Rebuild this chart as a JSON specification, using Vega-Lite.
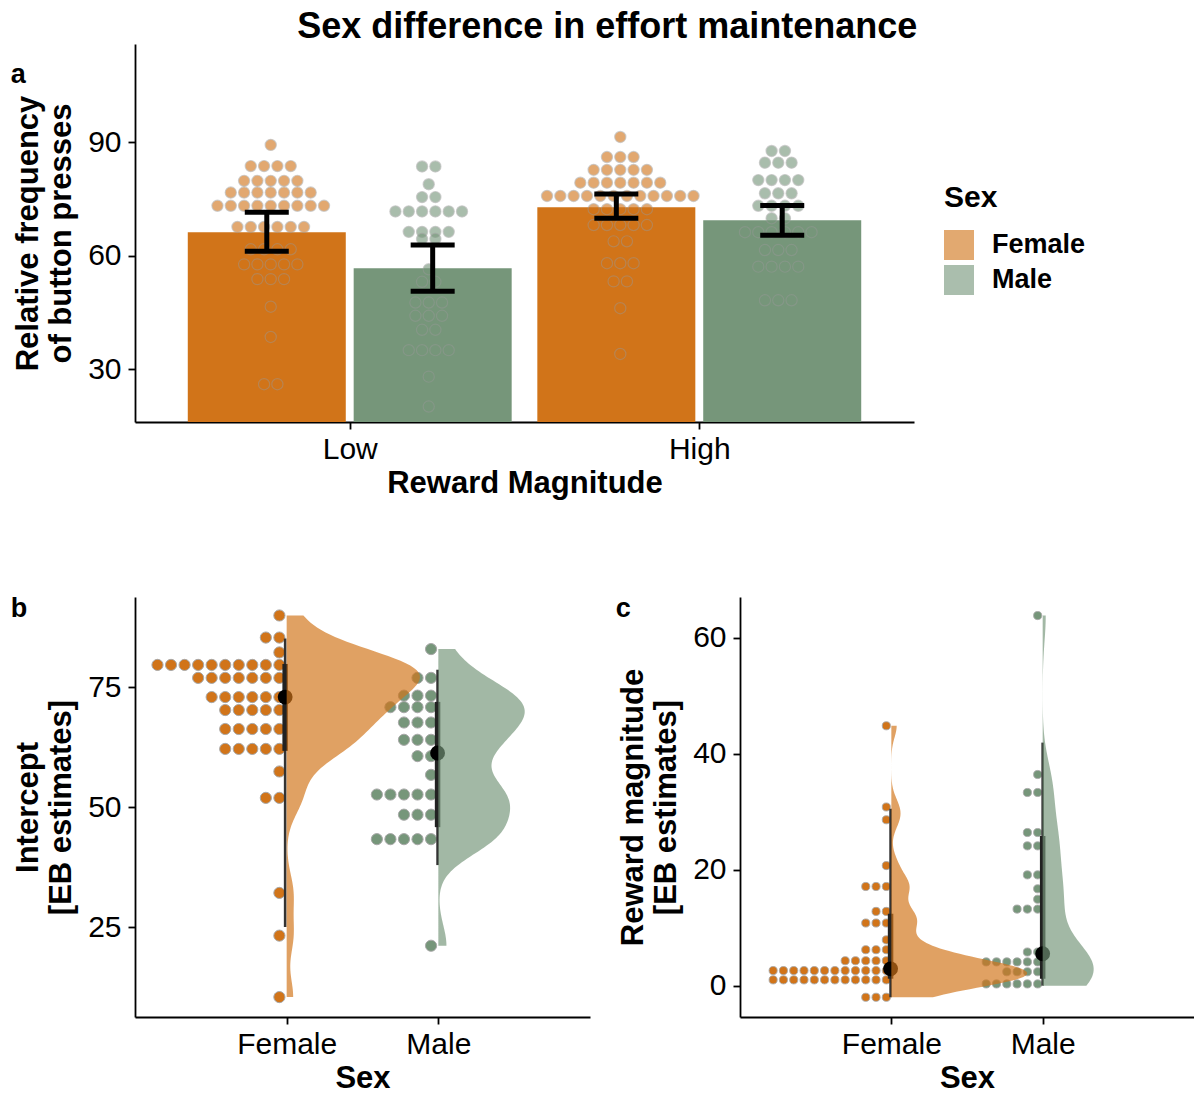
{
  "$schema": "https://vega.github.io/schema/vega-lite/v6.json",
  "padding": {"left": 10, "top": 9, "right": 0, "bottom": 0},
  "title": {"text": "Sex difference in effort maintenance", "fontSize": 36, "fontWeight": "bold", "color": "black", "anchor": "middle", "dx": 5, "offset": -2},
  "bounds": "flush",
  "spacing": 175,
  "datasets": {
    "barsA": [
      {"m": "Low", "s": "Female", "mean": 66.2, "lo": 61.2, "hi": 71.5},
      {"m": "Low", "s": "Male", "mean": 56.7, "lo": 50.6, "hi": 62.8},
      {"m": "High", "s": "Female", "mean": 72.8, "lo": 69.9, "hi": 76.3},
      {"m": "High", "s": "Male", "mean": 69.4, "lo": 65.4, "hi": 73.3}
    ],
    "dotsA": [
      {"m":"Low","s":"Female","v":89.3},
      {"m":"Low","s":"Female","v":83.7},{"m":"Low","s":"Female","v":83.7},{"m":"Low","s":"Female","v":83.7},{"m":"Low","s":"Female","v":83.7},
      {"m":"Low","s":"Female","v":79.8},{"m":"Low","s":"Female","v":79.8},{"m":"Low","s":"Female","v":79.8},{"m":"Low","s":"Female","v":79.8},{"m":"Low","s":"Female","v":79.8},
      {"m":"Low","s":"Female","v":76.7},{"m":"Low","s":"Female","v":76.7},{"m":"Low","s":"Female","v":76.7},{"m":"Low","s":"Female","v":76.7},{"m":"Low","s":"Female","v":76.7},{"m":"Low","s":"Female","v":76.7},{"m":"Low","s":"Female","v":76.7},
      {"m":"Low","s":"Female","v":73.2},{"m":"Low","s":"Female","v":73.2},{"m":"Low","s":"Female","v":73.2},{"m":"Low","s":"Female","v":73.2},{"m":"Low","s":"Female","v":73.2},{"m":"Low","s":"Female","v":73.2},{"m":"Low","s":"Female","v":73.2},{"m":"Low","s":"Female","v":73.2},{"m":"Low","s":"Female","v":73.2},
      {"m":"Low","s":"Female","v":67.6},{"m":"Low","s":"Female","v":67.6},{"m":"Low","s":"Female","v":67.6},{"m":"Low","s":"Female","v":67.6},{"m":"Low","s":"Female","v":67.6},{"m":"Low","s":"Female","v":67.6},
      {"m":"Low","s":"Female","v":61.7},{"m":"Low","s":"Female","v":61.7},{"m":"Low","s":"Female","v":61.7},{"m":"Low","s":"Female","v":61.7},
      {"m":"Low","s":"Female","v":57.7},{"m":"Low","s":"Female","v":57.7},{"m":"Low","s":"Female","v":57.7},{"m":"Low","s":"Female","v":57.7},{"m":"Low","s":"Female","v":57.7},
      {"m":"Low","s":"Female","v":53.8},{"m":"Low","s":"Female","v":53.8},{"m":"Low","s":"Female","v":53.8},
      {"m":"Low","s":"Female","v":46.5},{"m":"Low","s":"Female","v":38.5},
      {"m":"Low","s":"Female","v":26},{"m":"Low","s":"Female","v":26},

      {"m":"Low","s":"Male","v":83.6},{"m":"Low","s":"Male","v":83.6},
      {"m":"Low","s":"Male","v":78.9},
      {"m":"Low","s":"Male","v":75.5},{"m":"Low","s":"Male","v":75.5},
      {"m":"Low","s":"Male","v":71.7},{"m":"Low","s":"Male","v":71.7},{"m":"Low","s":"Male","v":71.7},{"m":"Low","s":"Male","v":71.7},{"m":"Low","s":"Male","v":71.7},{"m":"Low","s":"Male","v":71.7},
      {"m":"Low","s":"Male","v":66.3},{"m":"Low","s":"Male","v":66.3},{"m":"Low","s":"Male","v":66.3},{"m":"Low","s":"Male","v":66.3},
      {"m":"Low","s":"Male","v":64.4},{"m":"Low","s":"Male","v":64.4},
      {"m":"Low","s":"Male","v":56.4},
      {"m":"Low","s":"Male","v":53.1},{"m":"Low","s":"Male","v":53.1},
      {"m":"Low","s":"Male","v":47.6},{"m":"Low","s":"Male","v":47.6},{"m":"Low","s":"Male","v":47.6},
      {"m":"Low","s":"Male","v":44.1},{"m":"Low","s":"Male","v":44.1},{"m":"Low","s":"Male","v":44.1},
      {"m":"Low","s":"Male","v":40.4},{"m":"Low","s":"Male","v":40.4},
      {"m":"Low","s":"Male","v":35},{"m":"Low","s":"Male","v":35},{"m":"Low","s":"Male","v":35},{"m":"Low","s":"Male","v":35},
      {"m":"Low","s":"Male","v":28},{"m":"Low","s":"Male","v":20.1},

      {"m":"High","s":"Female","v":91.4},
      {"m":"High","s":"Female","v":86.1},{"m":"High","s":"Female","v":86.1},{"m":"High","s":"Female","v":86.1},
      {"m":"High","s":"Female","v":82.7},{"m":"High","s":"Female","v":82.7},{"m":"High","s":"Female","v":82.7},{"m":"High","s":"Female","v":82.7},{"m":"High","s":"Female","v":82.7},
      {"m":"High","s":"Female","v":79.3},{"m":"High","s":"Female","v":79.3},{"m":"High","s":"Female","v":79.3},{"m":"High","s":"Female","v":79.3},{"m":"High","s":"Female","v":79.3},{"m":"High","s":"Female","v":79.3},{"m":"High","s":"Female","v":79.3},
      {"m":"High","s":"Female","v":75.8},{"m":"High","s":"Female","v":75.8},{"m":"High","s":"Female","v":75.8},{"m":"High","s":"Female","v":75.8},{"m":"High","s":"Female","v":75.8},{"m":"High","s":"Female","v":75.8},{"m":"High","s":"Female","v":75.8},{"m":"High","s":"Female","v":75.8},{"m":"High","s":"Female","v":75.8},{"m":"High","s":"Female","v":75.8},{"m":"High","s":"Female","v":75.8},{"m":"High","s":"Female","v":75.8},
      {"m":"High","s":"Female","v":72.3},{"m":"High","s":"Female","v":72.3},{"m":"High","s":"Female","v":72.3},{"m":"High","s":"Female","v":72.3},{"m":"High","s":"Female","v":72.3},
      {"m":"High","s":"Female","v":68.1},{"m":"High","s":"Female","v":68.1},{"m":"High","s":"Female","v":68.1},{"m":"High","s":"Female","v":68.1},{"m":"High","s":"Female","v":68.1},
      {"m":"High","s":"Female","v":63.8},{"m":"High","s":"Female","v":63.8},
      {"m":"High","s":"Female","v":58},{"m":"High","s":"Female","v":58},{"m":"High","s":"Female","v":58},
      {"m":"High","s":"Female","v":53.2},{"m":"High","s":"Female","v":53.2},
      {"m":"High","s":"Female","v":46.1},{"m":"High","s":"Female","v":34},

      {"m":"High","s":"Male","v":87.7},{"m":"High","s":"Male","v":87.7},
      {"m":"High","s":"Male","v":84.6},{"m":"High","s":"Male","v":84.6},{"m":"High","s":"Male","v":84.6},
      {"m":"High","s":"Male","v":80},{"m":"High","s":"Male","v":80},{"m":"High","s":"Male","v":80},{"m":"High","s":"Male","v":80},
      {"m":"High","s":"Male","v":76.5},{"m":"High","s":"Male","v":76.5},{"m":"High","s":"Male","v":76.5},
      {"m":"High","s":"Male","v":73.2},{"m":"High","s":"Male","v":73.2},{"m":"High","s":"Male","v":73.2},{"m":"High","s":"Male","v":73.2},
      {"m":"High","s":"Male","v":69.9},{"m":"High","s":"Male","v":69.9},
      {"m":"High","s":"Male","v":66.2},{"m":"High","s":"Male","v":66.2},{"m":"High","s":"Male","v":66.2},{"m":"High","s":"Male","v":66.2},{"m":"High","s":"Male","v":66.2},{"m":"High","s":"Male","v":66.2},
      {"m":"High","s":"Male","v":61.5},{"m":"High","s":"Male","v":61.5},{"m":"High","s":"Male","v":61.5},
      {"m":"High","s":"Male","v":57.1},{"m":"High","s":"Male","v":57.1},{"m":"High","s":"Male","v":57.1},{"m":"High","s":"Male","v":57.1},
      {"m":"High","s":"Male","v":48.2},{"m":"High","s":"Male","v":48.2},{"m":"High","s":"Male","v":48.2}
    ],
    "dotsB": [
      {"s":"Female","v":89.9},
      {"s":"Female","v":85.3},{"s":"Female","v":85.3},
      {"s":"Female","v":82.2},
      {"s":"Female","v":79.6},{"s":"Female","v":79.6},{"s":"Female","v":79.6},{"s":"Female","v":79.6},{"s":"Female","v":79.6},{"s":"Female","v":79.6},{"s":"Female","v":79.6},{"s":"Female","v":79.6},{"s":"Female","v":79.6},{"s":"Female","v":79.6},
      {"s":"Female","v":76.9},{"s":"Female","v":76.9},{"s":"Female","v":76.9},{"s":"Female","v":76.9},{"s":"Female","v":76.9},{"s":"Female","v":76.9},{"s":"Female","v":76.9},
      {"s":"Female","v":72.9},{"s":"Female","v":72.9},{"s":"Female","v":72.9},{"s":"Female","v":72.9},{"s":"Female","v":72.9},{"s":"Female","v":72.9},
      {"s":"Female","v":70.2},{"s":"Female","v":70.2},{"s":"Female","v":70.2},{"s":"Female","v":70.2},{"s":"Female","v":70.2},
      {"s":"Female","v":66.25},{"s":"Female","v":66.25},{"s":"Female","v":66.25},{"s":"Female","v":66.25},{"s":"Female","v":66.25},
      {"s":"Female","v":62.1},{"s":"Female","v":62.1},{"s":"Female","v":62.1},{"s":"Female","v":62.1},{"s":"Female","v":62.1},
      {"s":"Female","v":57.4},
      {"s":"Female","v":51.9},{"s":"Female","v":51.9},
      {"s":"Female","v":32.1},{"s":"Female","v":23.2},{"s":"Female","v":10.4},
      {"s":"Male","v":82.9},
      {"s":"Male","v":76.9},{"s":"Male","v":76.9},
      {"s":"Male","v":73.2},{"s":"Male","v":73.2},{"s":"Male","v":73.2},
      {"s":"Male","v":70.8},{"s":"Male","v":70.8},{"s":"Male","v":70.8},{"s":"Male","v":70.8},
      {"s":"Male","v":67.6},{"s":"Male","v":67.6},{"s":"Male","v":67.6},
      {"s":"Male","v":64},{"s":"Male","v":64},{"s":"Male","v":64},
      {"s":"Male","v":60.6},{"s":"Male","v":60.6},
      {"s":"Male","v":56.7},
      {"s":"Male","v":52.6},{"s":"Male","v":52.6},{"s":"Male","v":52.6},{"s":"Male","v":52.6},{"s":"Male","v":52.6},
      {"s":"Male","v":48.4},{"s":"Male","v":48.4},{"s":"Male","v":48.4},
      {"s":"Male","v":43.3},{"s":"Male","v":43.3},{"s":"Male","v":43.3},{"s":"Male","v":43.3},{"s":"Male","v":43.3},
      {"s":"Male","v":21.1}
    ],
    "dotsC": [
      {"s":"Female","v":44.8},{"s":"Female","v":30.8},{"s":"Female","v":28.6},{"s":"Female","v":20.7},
      {"s":"Female","v":17.1},{"s":"Female","v":17.1},{"s":"Female","v":17.1},
      {"s":"Female","v":12.8},{"s":"Female","v":12.8},
      {"s":"Female","v":10.8},{"s":"Female","v":10.8},{"s":"Female","v":10.8},
      {"s":"Female","v":7.9},
      {"s":"Female","v":6.2},{"s":"Female","v":6.2},{"s":"Female","v":6.2},
      {"s":"Female","v":4.3},{"s":"Female","v":4.3},{"s":"Female","v":4.3},{"s":"Female","v":4.3},{"s":"Female","v":4.3},
      {"s":"Female","v":2.6},{"s":"Female","v":2.6},{"s":"Female","v":2.6},{"s":"Female","v":2.6},{"s":"Female","v":2.6},{"s":"Female","v":2.6},{"s":"Female","v":2.6},{"s":"Female","v":2.6},{"s":"Female","v":2.6},{"s":"Female","v":2.6},{"s":"Female","v":2.6},{"s":"Female","v":2.6},
      {"s":"Female","v":1.0},{"s":"Female","v":1.0},{"s":"Female","v":1.0},{"s":"Female","v":1.0},{"s":"Female","v":1.0},{"s":"Female","v":1.0},{"s":"Female","v":1.0},{"s":"Female","v":1.0},{"s":"Female","v":1.0},{"s":"Female","v":1.0},{"s":"Female","v":1.0},{"s":"Female","v":1.0},
      {"s":"Female","v":-2.0},{"s":"Female","v":-2.0},{"s":"Female","v":-2.0},
      {"s":"Male","v":63.8},{"s":"Male","v":36.4},
      {"s":"Male","v":33.3},{"s":"Male","v":33.3},
      {"s":"Male","v":26.4},{"s":"Male","v":26.4},
      {"s":"Male","v":24.1},{"s":"Male","v":24.1},
      {"s":"Male","v":19.1},{"s":"Male","v":19.1},
      {"s":"Male","v":16.7},{"s":"Male","v":14.9},
      {"s":"Male","v":13.2},{"s":"Male","v":13.2},{"s":"Male","v":13.2},
      {"s":"Male","v":5.8},{"s":"Male","v":5.8},
      {"s":"Male","v":4.1},{"s":"Male","v":4.1},{"s":"Male","v":4.1},{"s":"Male","v":4.1},{"s":"Male","v":4.1},{"s":"Male","v":4.1},
      {"s":"Male","v":2.4},{"s":"Male","v":2.4},{"s":"Male","v":2.4},{"s":"Male","v":2.4},
      {"s":"Male","v":0.3},{"s":"Male","v":0.3},{"s":"Male","v":0.3},{"s":"Male","v":0.3},{"s":"Male","v":0.3},{"s":"Male","v":0.3}
    ],
    "intB": [
      {"s":"Female","med":72.9,"lo66":61.7,"hi66":79.8,"lo95":25,"hi95":85.1},
      {"s":"Male","med":61.25,"lo66":45.8,"hi66":71.9,"lo95":37.9,"hi95":78.6}
    ],
    "intC": [
      {"s":"Female","med":2.9,"lo66":1.2,"hi66":12.4,"lo95":-2,"hi95":30.5},
      {"s":"Male","med":5.5,"lo66":1.2,"hi66":25.8,"lo95":0,"hi95":41.9}
    ]
  },
  "vconcat": [
    {
      "width": 779,
      "height": 378,
      "title": {"text": "a", "anchor": "start", "frame": "bounds", "fontSize": 27, "dy": 49, "dx": -2},
      "layer": [
        {
          "data": {"name": "barsA"},
          "transform": [{"calculate": "(datum.m=='Low'?1:2) + (datum.s=='Female'?-0.2373:0.2373)", "as": "pos"}],
          "mark": {"type": "bar", "width": 158, "clip": true, "orient": "vertical"},
          "encoding": {
            "x": {"field": "pos", "type": "quantitative", "scale": {"domain": [0.4, 2.6], "nice": false, "zero": false},
                  "axis": {"values": [1, 2], "labelExpr": "datum.value == 1 ? 'Low' : 'High'", "title": "Reward Magnitude"}},
            "y": {"field": "mean", "type": "quantitative", "scale": {"domain": [16, 116], "nice": false, "zero": false},
                  "axis": {"values": [30, 60, 90], "title": ["Relative frequency", "of button presses"]}},
            "color": {"field": "s", "type": "nominal", "scale": {"domain": ["Female", "Male"], "range": ["#D17419", "#76967A"]},
                      "legend": {"title": "Sex", "orient": "none", "legendX": 809, "legendY": 139, "symbolType": "square", "symbolSize": 900, "symbolOpacity": 1, "symbolStrokeWidth": 0}}
          }
        },
        {
          "data": {"name": "dotsA"},
          "transform": [
            {"window": [{"op": "row_number", "as": "r"}], "groupby": ["m", "s", "v"]},
            {"joinaggregate": [{"op": "count", "as": "n"}], "groupby": ["m", "s", "v"]},
            {"calculate": "(datum.m=='Low'?1:2) + (datum.s=='Female'?-0.226:0.226) + (datum.r-(datum.n+1)/2)*0.0381", "as": "px"}
          ],
          "mark": {"type": "circle", "size": 125, "opacity": 0.62, "stroke": "#9A9A9A", "strokeWidth": 1.2, "strokeOpacity": 0.7},
          "encoding": {
            "x": {"field": "px", "type": "quantitative"},
            "y": {"field": "v", "type": "quantitative"},
            "color": {"field": "s", "type": "nominal"}
          }
        },
        {
          "data": {"name": "barsA"},
          "transform": [{"calculate": "(datum.m=='Low'?1:2) + (datum.s=='Female'?-0.2373:0.2373)", "as": "pos"}],
          "mark": {"type": "rule", "color": "black", "strokeWidth": 5},
          "encoding": {
            "x": {"field": "pos", "type": "quantitative"},
            "y": {"field": "lo", "type": "quantitative"},
            "y2": {"field": "hi"}
          }
        },
        {
          "data": {"name": "barsA"},
          "transform": [
            {"calculate": "(datum.m=='Low'?1:2) + (datum.s=='Female'?-0.2373:0.2373)", "as": "pos"},
            {"fold": ["lo", "hi"], "as": ["k", "val"]}
          ],
          "mark": {"type": "tick", "orient": "horizontal", "size": 44, "thickness": 5, "color": "black", "opacity": 1},
          "encoding": {
            "x": {"field": "pos", "type": "quantitative"},
            "y": {"field": "val", "type": "quantitative"}
          }
        }
      ]
    },
    {
      "hconcat": [
        {
          "width": 455,
          "height": 420,
          "title": {"text": "b", "anchor": "start", "frame": "bounds", "fontSize": 27, "dy": 30, "dx": -2},
          "layer": [
            {
              "data": {"name": "dotsB"},
              "transform": [
                {"window": [{"op": "row_number", "as": "r"}], "groupby": ["s", "v"]},
                {"calculate": "(datum.s=='Female'?1:2) - 0.048 - (datum.r-1)*0.0893", "as": "px"}
              ],
              "mark": {"type": "circle", "size": 125, "opacity": 1, "stroke": "#A8A8A8", "strokeWidth": 1},
              "encoding": {
                "x": {"field": "px", "type": "quantitative", "scale": {"domain": [0, 3], "nice": false, "zero": false},
                      "axis": {"values": [1, 2], "labelExpr": "datum.value == 1 ? 'Female' : 'Male'", "title": "Sex"}},
                "y": {"field": "v", "type": "quantitative", "scale": {"domain": [6.25, 93.75], "nice": false, "zero": false},
                      "axis": {"values": [25, 50, 75], "title": ["Intercept", "[EB estimates]"]}},
                "color": {"field": "s", "type": "nominal", "scale": {"domain": ["Female", "Male"], "range": ["#CB6A12", "#6D8E70"]}, "legend": null}
              }
            },
            {
              "data": {"name": "intB"},
              "transform": [{"calculate": "datum.s=='Female'?0.99:1.995", "as": "g"}],
              "mark": {"type": "rule", "color": "#333333", "strokeWidth": 2.6},
              "encoding": {
                "x": {"field": "g", "type": "quantitative"},
                "y": {"field": "lo95", "type": "quantitative"},
                "y2": {"field": "hi95"}
              }
            },
            {
              "data": {"name": "intB"},
              "transform": [{"calculate": "datum.s=='Female'?0.99:1.995", "as": "g"}],
              "mark": {"type": "rule", "color": "#222222", "strokeWidth": 5.5},
              "encoding": {
                "x": {"field": "g", "type": "quantitative"},
                "y": {"field": "lo66", "type": "quantitative"},
                "y2": {"field": "hi66"}
              }
            },
            {
              "data": {"name": "intB"},
              "transform": [{"calculate": "datum.s=='Female'?0.99:1.995", "as": "g"}],
              "mark": {"type": "circle", "color": "black", "size": 220, "opacity": 1},
              "encoding": {
                "x": {"field": "g", "type": "quantitative"},
                "y": {"field": "med", "type": "quantitative"}
              }
            },
            {
              "data": {"name": "dotsB"},
              "transform": [
                {"filter": "datum.s == 'Female'"},
                {"density": "v", "bandwidth": 4, "extent": [10.4, 89.9], "steps": 160},
                {"calculate": "1 + datum.density * 20.5", "as": "d"},
                {"calculate": "1", "as": "g"}
              ],
              "mark": {"type": "area", "orient": "horizontal", "color": "#D17419", "opacity": 0.68},
              "encoding": {
                "y": {"field": "value", "type": "quantitative"},
                "x": {"field": "d", "type": "quantitative"},
                "x2": {"field": "g"}
              }
            },
            {
              "data": {"name": "dotsB"},
              "transform": [
                {"filter": "datum.s == 'Male'"},
                {"density": "v", "bandwidth": 4.3, "extent": [21.1, 82.9], "steps": 160},
                {"calculate": "2 + datum.density * 19", "as": "d"},
                {"calculate": "2", "as": "g"}
              ],
              "mark": {"type": "area", "orient": "horizontal", "color": "#76967A", "opacity": 0.68},
              "encoding": {
                "y": {"field": "value", "type": "quantitative"},
                "x": {"field": "d", "type": "quantitative"},
                "x2": {"field": "g"}
              }
            }
          ]
        },
        {
          "width": 454,
          "height": 420,
          "title": {"text": "c", "anchor": "start", "frame": "bounds", "fontSize": 27, "dy": 30, "dx": -2},
          "layer": [
            {
              "data": {"name": "dotsC"},
              "transform": [
                {"window": [{"op": "row_number", "as": "r"}], "groupby": ["s", "v"]},
                {"calculate": "(datum.s=='Female'?1:2) - 0.033 - (datum.r-1)*0.068", "as": "px"}
              ],
              "mark": {"type": "circle", "size": 66, "opacity": 1, "stroke": "#A8A8A8", "strokeWidth": 0.9},
              "encoding": {
                "x": {"field": "px", "type": "quantitative", "scale": {"domain": [0, 3], "nice": false, "zero": false},
                      "axis": {"values": [1, 2], "labelExpr": "datum.value == 1 ? 'Female' : 'Male'", "title": "Sex"}},
                "y": {"field": "v", "type": "quantitative", "scale": {"domain": [-5.4, 67], "nice": false, "zero": false},
                      "axis": {"values": [0, 20, 40, 60], "title": ["Reward magnitude", "[EB estimates]"]}},
                "color": {"field": "s", "type": "nominal", "scale": {"domain": ["Female", "Male"], "range": ["#CB6A12", "#6D8E70"]}, "legend": null}
              }
            },
            {
              "data": {"name": "intC"},
              "transform": [{"calculate": "datum.s=='Female'?0.995:2.0", "as": "g"}],
              "mark": {"type": "rule", "color": "#333333", "strokeWidth": 2.6},
              "encoding": {
                "x": {"field": "g", "type": "quantitative"},
                "y": {"field": "lo95", "type": "quantitative"},
                "y2": {"field": "hi95"}
              }
            },
            {
              "data": {"name": "intC"},
              "transform": [{"calculate": "datum.s=='Female'?0.995:2.0", "as": "g"}],
              "mark": {"type": "rule", "color": "#222222", "strokeWidth": 5.5},
              "encoding": {
                "x": {"field": "g", "type": "quantitative"},
                "y": {"field": "lo66", "type": "quantitative"},
                "y2": {"field": "hi66"}
              }
            },
            {
              "data": {"name": "intC"},
              "transform": [{"calculate": "datum.s=='Female'?0.995:2.0", "as": "g"}],
              "mark": {"type": "circle", "color": "black", "size": 220, "opacity": 1},
              "encoding": {
                "x": {"field": "g", "type": "quantitative"},
                "y": {"field": "med", "type": "quantitative"}
              }
            },
            {
              "data": {"name": "dotsC"},
              "transform": [
                {"filter": "datum.s == 'Female'"},
                {"density": "v", "bandwidth": 2, "extent": [-2, 44.8], "steps": 200},
                {"calculate": "1 + datum.density * 8.5", "as": "d"},
                {"calculate": "1", "as": "g"}
              ],
              "mark": {"type": "area", "orient": "horizontal", "color": "#D17419", "opacity": 0.68},
              "encoding": {
                "y": {"field": "value", "type": "quantitative"},
                "x": {"field": "d", "type": "quantitative"},
                "x2": {"field": "g"}
              }
            },
            {
              "data": {"name": "dotsC"},
              "transform": [
                {"filter": "datum.s == 'Male'"},
                {"density": "v", "bandwidth": 4.5, "extent": [0, 63.8], "steps": 200},
                {"calculate": "2 + datum.density * 7.5", "as": "d"},
                {"calculate": "2", "as": "g"}
              ],
              "mark": {"type": "area", "orient": "horizontal", "color": "#76967A", "opacity": 0.68},
              "encoding": {
                "y": {"field": "value", "type": "quantitative"},
                "x": {"field": "d", "type": "quantitative"},
                "x2": {"field": "g"}
              }
            },
            {
              "mark": {"type": "rule", "color": "#FF0000", "strokeWidth": 1.8},
              "encoding": {"y": {"datum": 0}}
            }
          ]
        }
      ],
      "spacing": 150,
      "bounds": "flush"
    }
  ],
  "config": {
    "font": "Liberation Sans",
    "view": {"stroke": null},
    "axis": {
      "grid": false,
      "domainColor": "black",
      "domainWidth": 1.8,
      "tickColor": "black",
      "tickWidth": 1.8,
      "tickSize": 7,
      "labelColor": "black",
      "labelFontSize": 30,
      "labelPadding": 7,
      "labelFont": "Liberation Sans",
      "titleFont": "Liberation Sans",
      "titleFontSize": 31,
      "titleFontWeight": "bold",
      "titleColor": "black"
    },
    "axisY": {"titlePadding": 10},
    "axisX": {"titlePadding": 4, "labelPadding": 5},
    "legend": {
      "titleFontSize": 30,
      "titleFontWeight": "bold",
      "titleColor": "black",
      "labelFontSize": 27,
      "labelFontWeight": "bold",
      "labelColor": "black",
      "titlePadding": 17,
      "rowPadding": 5,
      "labelOffset": 18
    },
    "title": {"color": "black", "fontWeight": "bold", "font": "Liberation Sans"}
  }
}
